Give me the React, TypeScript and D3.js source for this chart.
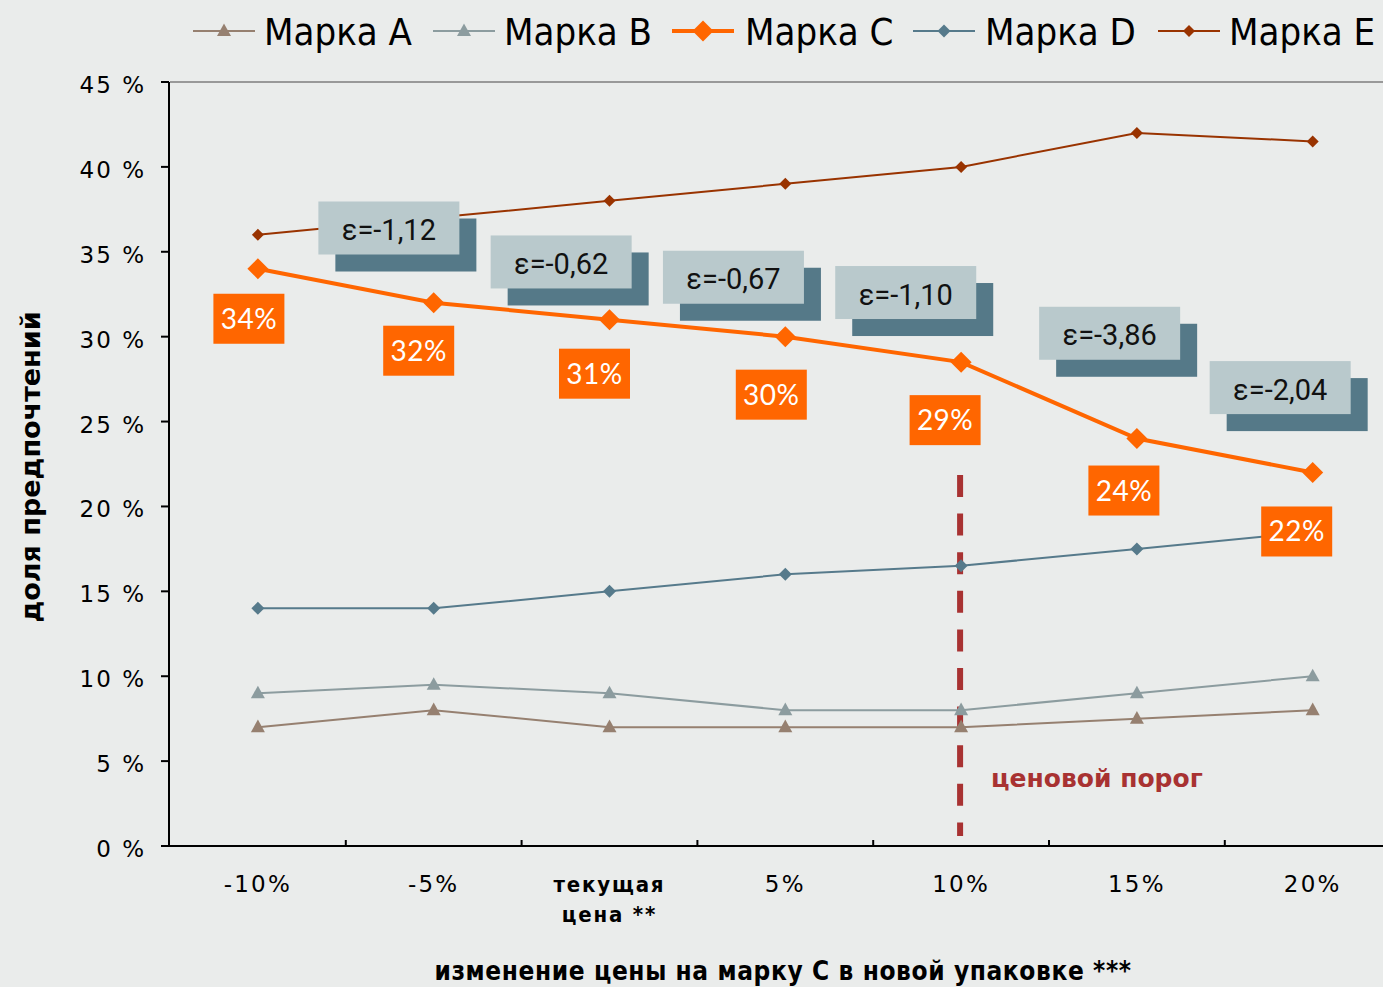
import React from "react";
import * as d3 from "d3";

const categories = ["-10%", "-5%", "текущая цена **", "5%", "10%", "15%", "20%"];
const brandA = [7, 8, 7, 7, 7, 7.5, 8];
const brandB = [9, 9.5, 9, 8, 8, 9, 10];
const brandC = [34, 32, 31, 30, 28.5, 24, 22];
const brandD = [14, 14, 15, 16, 16.5, 17.5, 18.5];
const brandE = [36, 37, 38, 39, 40, 42, 41.5];
const seriesNames = ["Марка A", "Марка B", "Марка C", "Марка D", "Марка E"];
const cLabels = ["34%", "32%", "31%", "30%", "29%", "24%", "22%"];
const elasticities = ["ε=-1,12", "ε=-0,62", "ε=-0,67", "ε=-1,10", "ε=-3,86", "ε=-2,04"];
const yTicks = [0, 5, 10, 15, 20, 25, 30, 35, 40, 45];
const thresholdCategory = "10%";

// layout (positions of annotations, not data)
const elastAnchorIdx = [0.745, 1.725, 2.705, 3.685, 4.845, 5.815];
const elastAnchorY = [36.4, 34.4, 33.5, 32.6, 30.2, 27.0];
const cLabelDx = [-9, -15, -15, -14, -16, -13, -16];
const cLabelDy = [50, 48, 54, 58, 58, 52, 59];

const W = 1383, H = 987;
const left = 170, top = 82, bottom = 846;
const step = 175.8;

const colors = {
  A: "#968070", B: "#8c9c9f", C: "#ff6600", D: "#567a8b", E: "#993300",
  bg: "#eaeceb", light: "#b9c9cc", dark: "#557988", red: "#a83232",
};

type Marker = "tri" | "diamond";

function markerPath(type: Marker, size: number) {
  if (type === "tri") {
    const h = size * 0.9;
    return `M0,${-h * 0.6} L${size / 2},${h * 0.4} L${-size / 2},${h * 0.4} Z`;
  }
  return `M0,${-size / 2} L${size / 2},0 L0,${size / 2} L${-size / 2},0 Z`;
}

export default function App() {
  const x = d3.scaleBand<string>().domain(categories).range([left, left + step * categories.length]).padding(0);
  const cx = (c: string) => (x(c) as number) + x.bandwidth() / 2;
  const cxIdx = (i: number) => left + x.bandwidth() * (i + 0.5);
  const y = d3.scaleLinear().domain([0, 45]).range([bottom, top]);

  const series = [
    { name: seriesNames[0], vals: brandA, color: colors.A, marker: "tri" as Marker, ms: 14, lw: 2 },
    { name: seriesNames[1], vals: brandB, color: colors.B, marker: "tri" as Marker, ms: 14, lw: 2 },
    { name: seriesNames[3], vals: brandD, color: colors.D, marker: "diamond" as Marker, ms: 13, lw: 2 },
    { name: seriesNames[4], vals: brandE, color: colors.E, marker: "diamond" as Marker, ms: 12, lw: 2 },
    { name: seriesNames[2], vals: brandC, color: colors.C, marker: "diamond" as Marker, ms: 21, lw: 4 },
  ];
  const line = d3.line<number>().x((_, i) => cx(categories[i])).y((v) => y(v));

  const legendItems = [
    { name: seriesNames[0], color: colors.A, marker: "tri" as Marker, ms: 14, lw: 2, lx: 193, tx: 264 },
    { name: seriesNames[1], color: colors.B, marker: "tri" as Marker, ms: 14, lw: 2, lx: 433, tx: 504 },
    { name: seriesNames[2], color: colors.C, marker: "diamond" as Marker, ms: 21, lw: 4, lx: 672, tx: 745 },
    { name: seriesNames[3], color: colors.D, marker: "diamond" as Marker, ms: 13, lw: 2, lx: 913, tx: 985 },
    { name: seriesNames[4], color: colors.E, marker: "diamond" as Marker, ms: 12, lw: 2, lx: 1158, tx: 1229 },
  ];

  const boxW = 141, boxH = 53, shadow = 17;
  const tx = cx(thresholdCategory);

  return (
    <svg width={W} height={H} style={{ position: "fixed", left: 0, top: 0, display: "block", background: colors.bg }}>
      <rect x={0} y={0} width={W} height={H} fill={colors.bg} />
      {/* top border line */}
      <line x1={left} x2={W} y1={top} y2={top} stroke="#999" strokeWidth={2} />

      {/* legend */}
      {legendItems.map((l) => (
        <g key={l.name}>
          <line x1={l.lx} x2={l.lx + 62} y1={31} y2={31} stroke={l.color} strokeWidth={l.lw} />
          <path d={markerPath(l.marker, l.ms)} transform={`translate(${l.lx + 31},31)`} fill={l.color} />
          <text x={l.tx} y={45} fontFamily="DejaVu Sans Condensed" fontSize={38} fill="#000">{l.name}</text>
        </g>
      ))}

      {/* y axis */}
      <line x1={left - 1} x2={left - 1} y1={top} y2={bottom} stroke="#000" strokeWidth={2} />
      {yTicks.map((t) => (
        <g key={t}>
          <line x1={left - 9} x2={left - 1} y1={y(t)} y2={y(t)} stroke="#000" strokeWidth={2} />
          <text x={146} y={y(t) + 11} textAnchor="end" fontFamily="DejaVu Sans" fontSize={23} letterSpacing={2} fill="#000">{`${t} %`}</text>
        </g>
      ))}
      <text transform={`translate(40,467) rotate(-90)`} textAnchor="middle" fontFamily="DejaVu Sans" fontWeight="bold" fontSize={27} fill="#000">доля предпочтений</text>

      {/* x axis */}
      <line x1={left - 1} x2={W} y1={bottom} y2={bottom} stroke="#000" strokeWidth={2} />
      {categories.map((c, i) => (
        <line key={"t" + i} x1={(x(c) as number) + x.bandwidth()} x2={(x(c) as number) + x.bandwidth()} y1={bottom - 6} y2={bottom} stroke="#000" strokeWidth={2} />
      ))}
      {categories.map((c) => {
        const bold = c.startsWith("текущая");
        if (bold) {
          const parts = ["текущая", "цена **"];
          return (
            <text key={c} x={cx(c)} textAnchor="middle" fontFamily="DejaVu Sans Condensed" fontWeight="bold" fontSize={22} letterSpacing={1.8} fill="#000">
              <tspan x={cx(c)} y={892}>{parts[0]}</tspan>
              <tspan x={cx(c)} y={922}>{parts[1]}</tspan>
            </text>
          );
        }
        return (
          <text key={c} x={cx(c)} y={892} textAnchor="middle" fontFamily="DejaVu Sans" fontSize={23} letterSpacing={2.2} fill="#000">{c}</text>
        );
      })}
      <text x={783} y={980} textAnchor="middle" fontFamily="DejaVu Sans Condensed" fontWeight="bold" fontSize={26} letterSpacing={0.6} fill="#000">изменение цены на марку С в новой упаковке ***</text>

      {/* threshold */}
      <line x1={tx - 1} x2={tx - 1} y1={475} y2={bottom - 10} stroke={colors.red} strokeWidth={6} strokeDasharray="22 16.6" />
      <text x={991} y={787} fontFamily="DejaVu Sans" fontWeight="bold" fontSize={25} fill={colors.red}>ценовой порог</text>

      {/* series lines & markers */}
      {series.map((s) => (
        <g key={s.name}>
          <path d={line(s.vals) || ""} fill="none" stroke={s.color} strokeWidth={s.lw} />
          {s.vals.map((v, i) => (
            <path key={i} d={markerPath(s.marker, s.ms)} transform={`translate(${cx(categories[i])},${y(v)})`} fill={s.color} />
          ))}
        </g>
      ))}

      {/* elasticity boxes */}
      {elasticities.map((e, i) => {
        const bx = cxIdx(elastAnchorIdx[i]) - boxW / 2;
        const by = y(elastAnchorY[i]) - boxH / 2;
        return (
          <g key={e}>
            <rect x={bx + shadow} y={by + shadow} width={boxW} height={boxH} fill={colors.dark} />
            <rect x={bx} y={by} width={boxW} height={boxH} fill={colors.light} />
            <text x={bx + boxW / 2} y={by + boxH / 2 + 12} textAnchor="middle" fontFamily="Roboto" fontSize={29} fill="#111">{e}</text>
          </g>
        );
      })}

      {/* C value labels */}
      {brandC.map((v, i) => {
        const lx = cx(categories[i]) + cLabelDx[i];
        const ly = y(v) + cLabelDy[i];
        return (
          <g key={"c" + i}>
            <rect x={lx - 35.5} y={ly - 25} width={71} height={50} fill={colors.C} />
            <text x={lx} y={ly + 10} textAnchor="middle" fontFamily="Lato" fontSize={28} letterSpacing={0.5} fill="#fff">{cLabels[i]}</text>
          </g>
        );
      })}
    </svg>
  );
}
